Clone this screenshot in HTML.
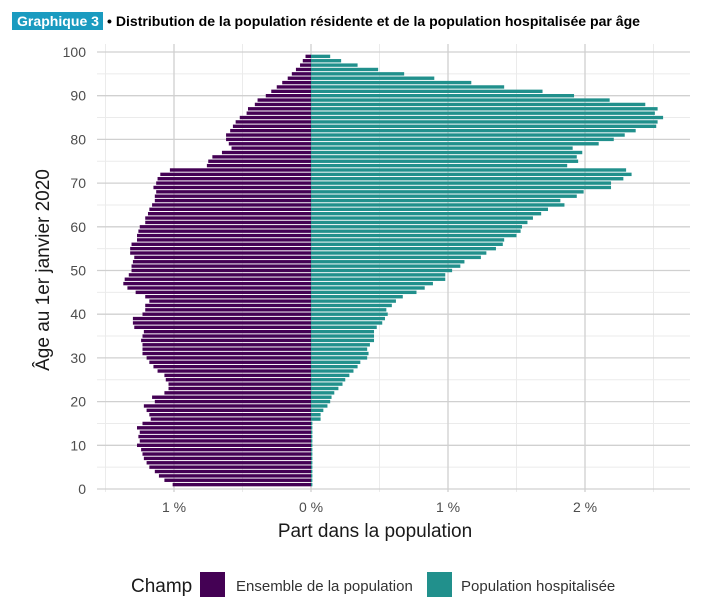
<!DOCTYPE html>
<html><head><meta charset="utf-8"><style>
html,body{margin:0;padding:0;background:#fff;}
svg{display:block;font-family:"Liberation Sans",Arial,sans-serif;}
</style></head><body>
<svg id="chart" width="716" height="613" viewBox="0 0 716 613" xmlns="http://www.w3.org/2000/svg">
<rect x="12" y="12" width="91" height="18" fill="#1a9bc0"/>
<text x="17" y="26" fill="#fff" font-weight="bold" font-size="14" textLength="82" lengthAdjust="spacingAndGlyphs">Graphique 3</text>
<text x="107" y="26" fill="#000" font-weight="bold" font-size="14" textLength="533" lengthAdjust="spacingAndGlyphs">• Distribution de la population résidente et de la population hospitalisée par âge</text>
<g id="grid"></g>
<g id="bars"></g>
<g id="axes"></g>
<text x="375" y="537" text-anchor="middle" font-size="19" fill="#1a1a1a">Part dans la population</text>
<text transform="translate(49,270) rotate(-90)" text-anchor="middle" font-size="19" fill="#1a1a1a">Âge au 1er janvier 2020</text>
<g>
<text x="131" y="592" font-size="19" fill="#1a1a1a">Champ</text>
<rect x="200" y="572" width="25" height="25" fill="#440154"/>
<text x="236" y="591" font-size="15" fill="#333">Ensemble de la population</text>
<rect x="427" y="572" width="25" height="25" fill="#21908c"/>
<text x="461" y="591" font-size="15" fill="#333">Population hospitalisée</text>
</g>
</svg>
<script>
// Ages from 99 down to 1
const ensemble = [0.04,0.06,0.08,0.11,0.14,0.17,0.21,0.25,0.29,0.33,0.39,0.41,0.46,0.47,0.52,0.55,0.57,0.59,0.62,0.62,0.60,0.58,0.65,0.72,0.75,0.76,1.03,1.10,1.12,1.13,1.15,1.13,1.14,1.14,1.16,1.18,1.19,1.21,1.21,1.25,1.26,1.27,1.27,1.31,1.32,1.32,1.29,1.30,1.31,1.31,1.33,1.36,1.37,1.34,1.28,1.21,1.18,1.21,1.21,1.23,1.30,1.30,1.29,1.22,1.23,1.24,1.23,1.23,1.23,1.20,1.18,1.15,1.12,1.07,1.06,1.04,1.04,1.07,1.16,1.14,1.22,1.20,1.18,1.17,1.23,1.27,1.25,1.26,1.25,1.27,1.24,1.23,1.22,1.20,1.18,1.14,1.11,1.07,1.01];
const hospitalisee = [0.14,0.22,0.34,0.49,0.68,0.90,1.17,1.41,1.69,1.92,2.18,2.44,2.53,2.51,2.57,2.53,2.52,2.37,2.29,2.21,2.10,1.91,1.98,1.94,1.95,1.87,2.30,2.34,2.28,2.19,2.19,1.99,1.94,1.82,1.85,1.73,1.68,1.62,1.58,1.54,1.53,1.50,1.41,1.40,1.35,1.28,1.24,1.12,1.09,1.03,0.98,0.98,0.89,0.83,0.77,0.67,0.62,0.59,0.55,0.56,0.54,0.52,0.48,0.46,0.46,0.46,0.43,0.41,0.42,0.41,0.36,0.34,0.31,0.28,0.25,0.23,0.20,0.17,0.15,0.14,0.12,0.09,0.07,0.07,0.01,0.01,0.01,0.01,0.01,0.01,0.01,0.01,0.01,0.01,0.01,0.01,0.01,0.01,0.01];
const yTicks = [0,10,20,30,40,50,60,70,80,90,100];
const xTickValues = [-1,0,1,2];
const xTickLabels = ["1 %","0 %","1 %","2 %"];

const NS = "http://www.w3.org/2000/svg";
const X0 = 311, PX = 137;
function xs(v){ return X0 + v*PX; }
function ys(a){ return 489 - a*4.37; }
function mk(tag, attrs, parent){ const e=document.createElementNS(NS,tag); for(const k in attrs) e.setAttribute(k,attrs[k]); parent.appendChild(e); return e; }
const grid=document.getElementById('grid'), bars=document.getElementById('bars'), axes=document.getElementById('axes');
const L=97, R=690;
for(let a=5;a<100;a+=10){
  const l=mk('line',{x1:L,x2:R,y1:ys(a),y2:ys(a),stroke:'#ebebeb','stroke-width':1},grid);
  
  
}
for(let v=-1.5; v<=2.5; v+=1){
  const l=mk('line',{x1:xs(v),x2:xs(v),y1:44,y2:492,stroke:'#ebebeb','stroke-width':1},grid);
  
  
}
yTicks.forEach(t=>{
  const l=mk('line',{x1:L,x2:R,y1:ys(t),y2:ys(t),stroke:'#d0d0d0','stroke-width':1.3},grid);
  
  
  const tx=mk('text',{x:86,y:ys(t)+5,'text-anchor':'end','font-size':14,fill:'#4d4d4d'},axes);
  tx.textContent=t;
  
  
});
xTickValues.forEach((v,i)=>{
  const l=mk('line',{x1:xs(v),x2:xs(v),y1:44,y2:492,stroke:'#d0d0d0','stroke-width':1.3},grid);
  
  
  const tx=mk('text',{x:xs(v),y:512,'text-anchor':'middle','font-size':14,fill:'#4d4d4d'},axes);
  tx.textContent=xTickLabels[i];
  
  
});
ensemble.forEach((v,i)=>{
  const age=99-i;
  const r=mk('rect',{x:xs(-v),y:ys(age)-1.7,width:xs(0)-xs(-v),height:3.4,fill:'#440154'},bars);
  
  
});
hospitalisee.forEach((v,i)=>{
  const age=99-i;
  const r=mk('rect',{x:xs(0),y:ys(age)-1.7,width:xs(v)-xs(0),height:3.4,fill:'#21908c'},bars);
  
  
});
</script>
</body></html>
